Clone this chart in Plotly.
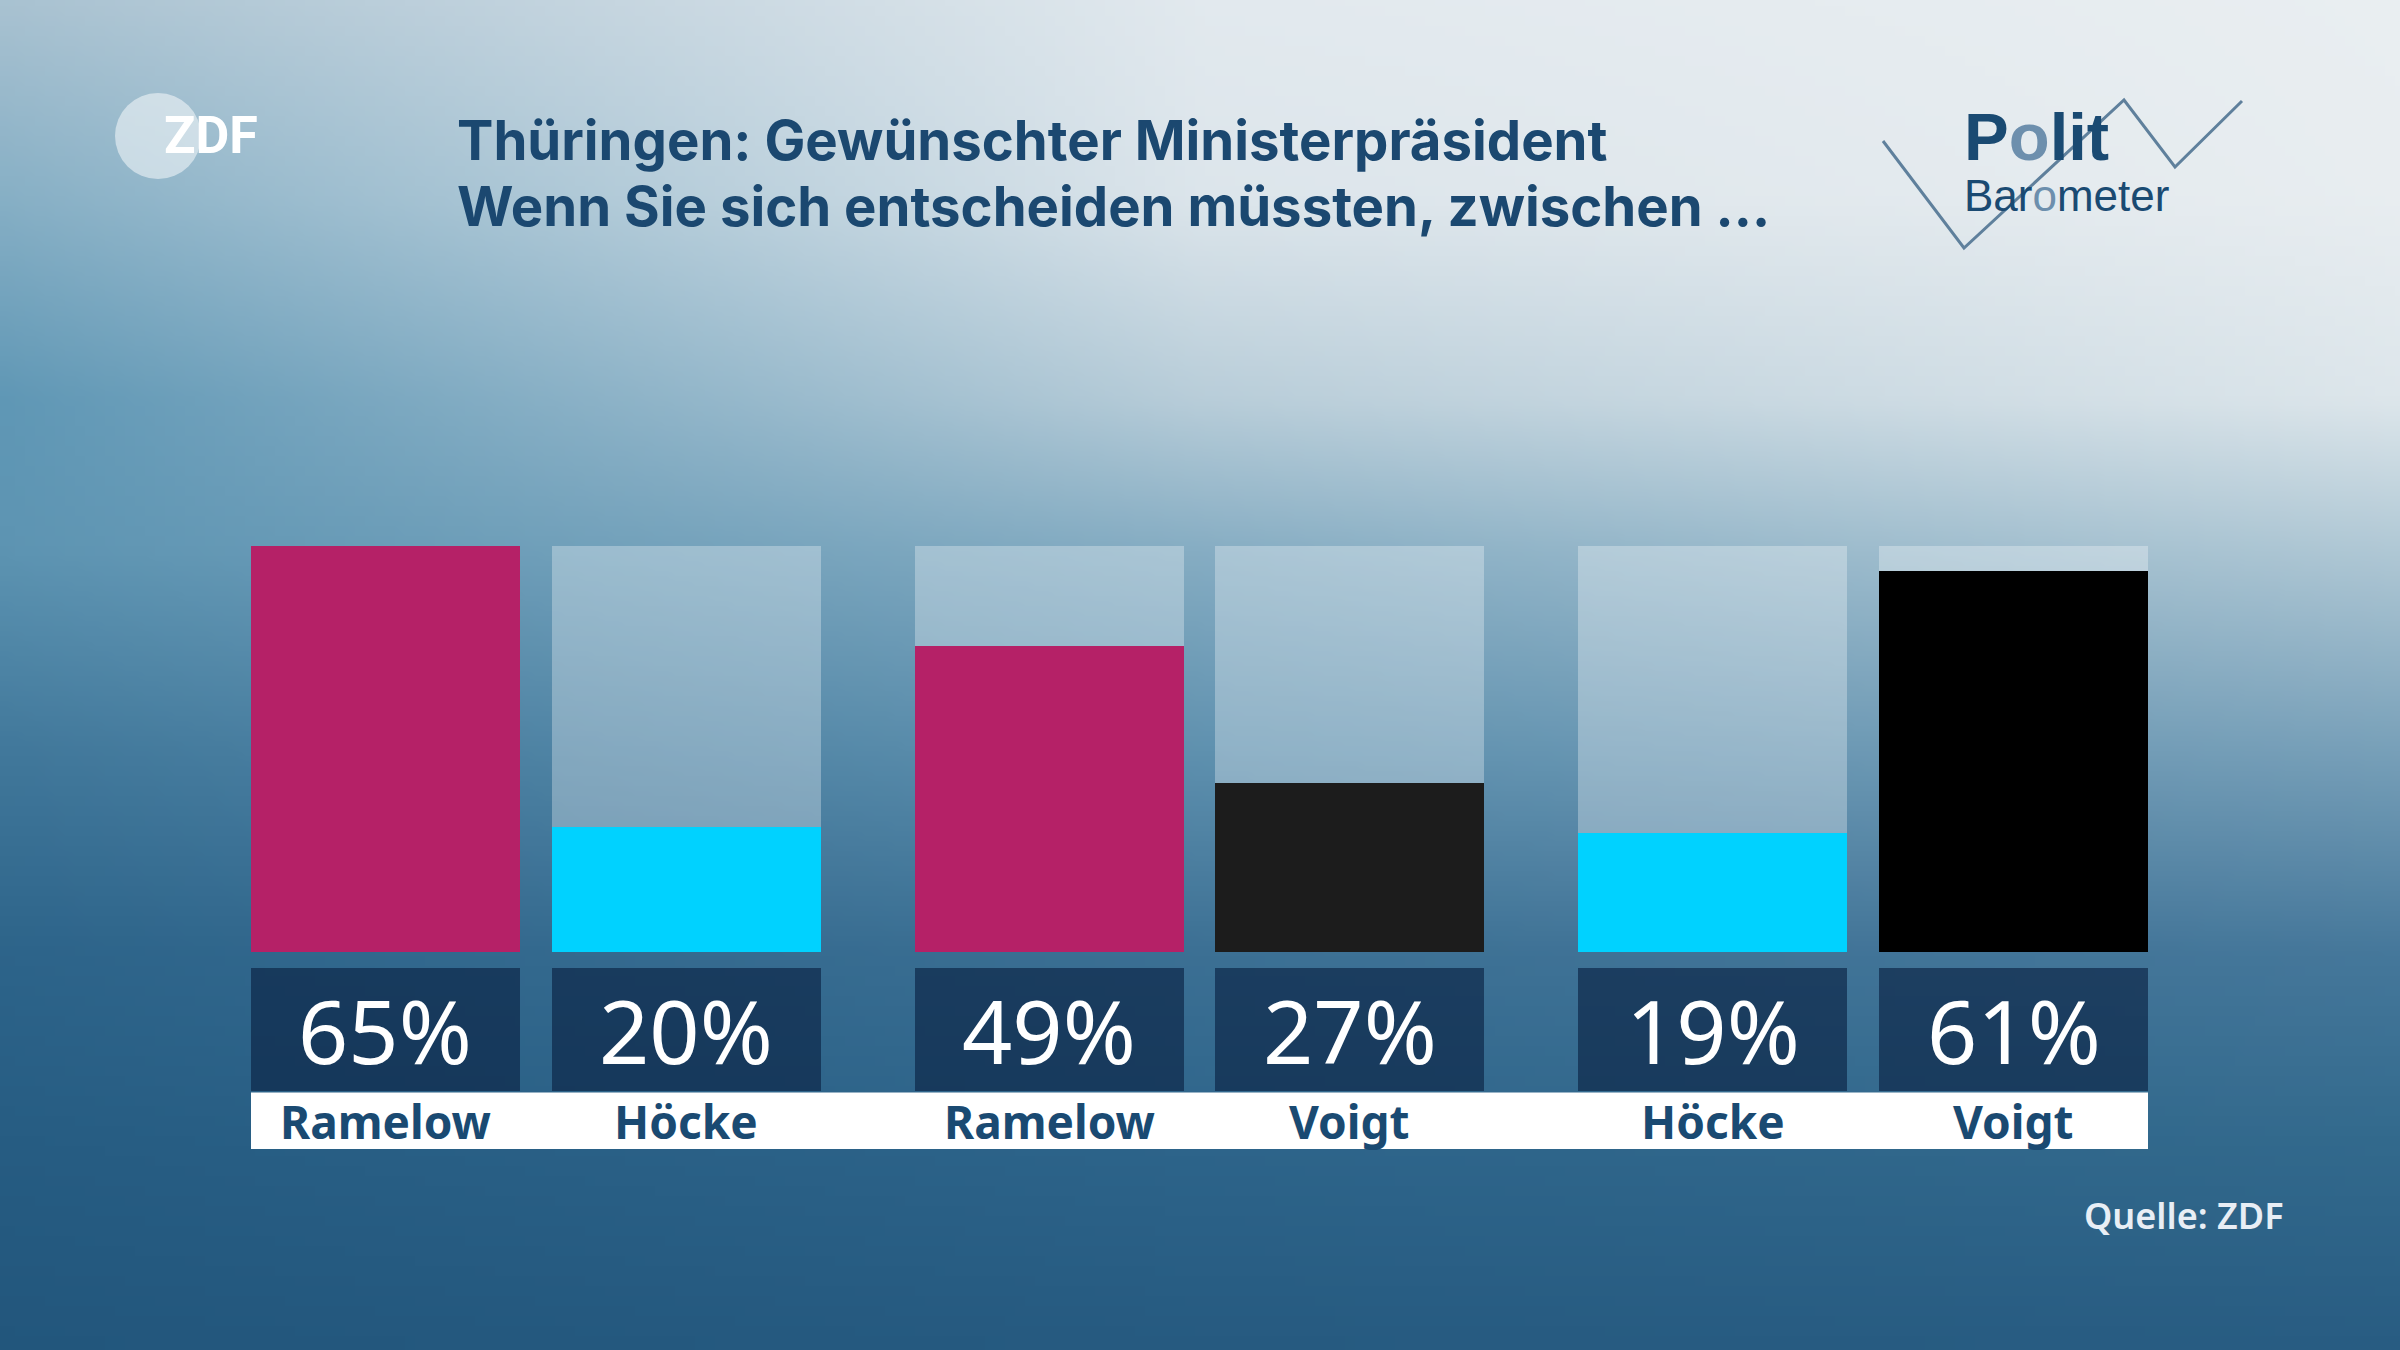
import base64
import struct
import zlib
import plotly.graph_objects as go

W, H = 2400, 1350

# ---------------- data ----------------
pairings = ["Ramelow – Höcke", "Ramelow – Voigt", "Höcke – Voigt"]
names = ["Ramelow", "Höcke", "Ramelow", "Voigt", "Höcke", "Voigt"]
values = [65, 20, 49, 27, 19, 61]
pair_index = [0, 0, 1, 1, 2, 2]
bar_colors = ["#b52167", "#00d2ff", "#b52167", "#1c1c1c", "#00d2ff", "#000000"]
title_line1 = "Thüringen: Gewünschter Ministerpräsident"
title_line2 = "Wenn Sie sich entscheiden müssten, zwischen ..."
source_text = "Quelle: ZDF"

scale_max = max(values)

# ---------------- layout constants ----------------
PL, PR, PT, PB = 251, 252, 546, 201
PW, PH = W - PL - PR, H - PT - PB
zero_px = 952.0
pair_gap = 0.206
bar_w = 0.894
x_pos = [g * (2 + pair_gap) + (i % 2) for i, g in enumerate(pair_index)]


def ypx(py):
    return scale_max * (zero_px - py) / (zero_px - PT)


y_min = ypx(PT + PH)
x_min = x_pos[0] - bar_w / 2
x_max = x_pos[-1] + bar_w / 2


def pxp(x):
    return (x - PL) / PW


def pyp(y):
    return (H - PB - y) / PH


# ---------------- background gradient (png) ----------------
grad_rows = [
    (0, (169, 194, 209), (226, 233, 238), (233, 238, 241)),
    (200, (134, 175, 197), (220, 229, 235), (232, 237, 240)),
    (400, (95, 151, 181), (184, 205, 217), (221, 230, 235)),
    (550, (93, 148, 178), (134, 173, 195), (176, 200, 213)),
    (750, (65, 120, 155), (95, 145, 175), (120, 160, 185)),
    (950, (45, 100, 138), (60, 112, 148), (70, 120, 155)),
    (1150, (38, 92, 130), (45, 100, 138), (50, 105, 140)),
    (1350, (34, 86, 124), (38, 90, 128), (40, 92, 130)),
]


def lerp(a, b, t):
    return tuple(a[k] + (b[k] - a[k]) * t for k in range(3))


gw, gh = 240, 135
raw = bytearray()
for j in range(gh):
    y = (j + 0.5) * H / gh
    for s in range(len(grad_rows) - 1):
        if grad_rows[s][0] <= y <= grad_rows[s + 1][0]:
            break
    y0, l0, c0, r0 = grad_rows[s]
    y1, l1, c1, r1 = grad_rows[s + 1]
    t = (y - y0) / (y1 - y0)
    L, C, R = lerp(l0, l1, t), lerp(c0, c1, t), lerp(r0, r1, t)
    raw.append(0)
    for i in range(gw):
        x = (i + 0.5) * W / gw
        if x < W / 2:
            col = lerp(L, C, x / (W / 2))
        else:
            col = lerp(C, R, (x - W / 2) / (W / 2))
        raw += bytes(int(max(0, min(255, round(v)))) for v in col)


def chunk(tag, data):
    return (struct.pack(">I", len(data)) + tag + data
            + struct.pack(">I", zlib.crc32(tag + data) & 0xFFFFFFFF))


png = (b"\x89PNG\r\n\x1a\n"
       + chunk(b"IHDR", struct.pack(">IIBBBBB", gw, gh, 8, 2, 0, 0, 0))
       + chunk(b"IDAT", zlib.compress(bytes(raw), 9))
       + chunk(b"IEND", b""))
bg_src = "data:image/png;base64," + base64.b64encode(png).decode()

# ---------------- figure ----------------
fig = go.Figure()

# background tracks (full scale)
fig.add_trace(go.Bar(
    x=x_pos, y=[scale_max] * len(values), width=bar_w,
    marker=dict(color="rgba(255,255,255,0.30)", line=dict(width=0)),
    hoverinfo="skip", showlegend=False))

# value bars
fig.add_trace(go.Bar(
    x=x_pos, y=values, width=bar_w,
    marker=dict(color=bar_colors, line=dict(width=0)),
    hoverinfo="skip", showlegend=False))

# label boxes
box_top, box_bot = ypx(967.7), ypx(1091.4)
fig.add_trace(go.Bar(
    x=x_pos, y=[box_top - box_bot] * len(values), base=[box_bot] * len(values),
    width=bar_w,
    marker=dict(color="rgba(11,35,68,0.66)", line=dict(width=0)),
    hoverinfo="skip", showlegend=False))

shapes = []
strip_top = ypx(1092.6)
shapes.append(dict(type="rect", xref="x", yref="y", x0=x_min, x1=x_max,
                   y0=y_min, y1=strip_top, fillcolor="white",
                   line=dict(width=0), layer="above"))

annotations = []
for xp, v, n in zip(x_pos, values, names):
    annotations.append(dict(
        x=xp, y=(box_top + box_bot) / 2, xref="x", yref="y",
        text=f"{v}%", showarrow=False, xanchor="center", yanchor="middle",
        font=dict(family="Noto Sans", size=88, color="white")))
    annotations.append(dict(
        x=xp, y=(strip_top + y_min) / 2, xref="x", yref="y",
        text=f"<b>{n}</b>", showarrow=False, xanchor="center", yanchor="middle",
        font=dict(family="Noto Sans", size=46, color="#1a4a72")))

# title
annotations.append(dict(
    x=pxp(455), y=pyp(140), xref="paper", yref="paper",
    text=title_line1, showarrow=False, xanchor="left", yanchor="middle",
    font=dict(family="Inter", size=54.5, color="#1b4870", weight=700)))
annotations.append(dict(
    x=pxp(455), y=pyp(206), xref="paper", yref="paper",
    text=title_line2, showarrow=False, xanchor="left", yanchor="middle",
    font=dict(family="Inter", size=54.5, color="#1b4870", weight=700)))

# source
annotations.append(dict(
    x=pxp(2286), y=pyp(1215), xref="paper", yref="paper",
    text=source_text, showarrow=False, xanchor="right", yanchor="middle",
    font=dict(family="Noto Sans", size=36, color="#e8eef5", weight=600)))

# ZDF logo
shapes.append(dict(type="circle", xref="paper", yref="paper",
                   x0=pxp(115), x1=pxp(201), y0=pyp(179), y1=pyp(93),
                   fillcolor="rgba(255,255,255,0.5)", line=dict(width=0),
                   layer="above"))
annotations.append(dict(
    x=pxp(162), y=pyp(135), xref="paper", yref="paper",
    text="<b>ZDF</b>", showarrow=False, xanchor="left", yanchor="middle",
    font=dict(family="Roboto", size=52, color="white")))

# Politbarometer logo
lp = [(1883, 141), (1964, 248), (2124, 100), (2175, 167), (2242, 101)]
path = "M " + " L ".join(f"{pxp(a):.5f},{pyp(b):.5f}" for a, b in lp)
shapes.append(dict(type="path", xref="paper", yref="paper", path=path,
                   line=dict(color="#5f809c", width=3), layer="above"))
annotations.append(dict(
    x=pxp(1962), y=pyp(176), xref="paper", yref="paper",
    text="<b>P<span style='color:#6d8fad'>o</span>lit</b>", showarrow=False,
    xanchor="left", yanchor="bottom",
    font=dict(family="Liberation Sans", size=67, color="#1a4a72")))
annotations.append(dict(
    x=pxp(1962), y=pyp(169), xref="paper", yref="paper",
    text="Bar<span style='color:#6d8fad'>o</span>meter", showarrow=False,
    xanchor="left", yanchor="top",
    font=dict(family="Liberation Sans", size=44, color="#1a4a72")))

fig.update_layout(
    width=W, height=H,
    margin=dict(l=PL, r=PR, t=PT, b=PB, pad=0),
    paper_bgcolor="#2b6088", plot_bgcolor="rgba(0,0,0,0)",
    barmode="overlay", bargap=0,
    showlegend=False,
    xaxis=dict(range=[x_min, x_max], visible=False, fixedrange=True),
    yaxis=dict(range=[y_min, scale_max], visible=False, fixedrange=True),
    images=[dict(source=bg_src, xref="paper", yref="paper",
                 x=pxp(0), y=pyp(0), sizex=W / PW, sizey=H / PH,
                 xanchor="left", yanchor="top", sizing="stretch",
                 layer="below")],
    shapes=shapes,
    annotations=annotations,
)

fig.write_html(
    "out.html",
    config={"displayModeBar": False},
    post_script="document.body.style.margin='0px';document.body.style.padding='0px';",
)
